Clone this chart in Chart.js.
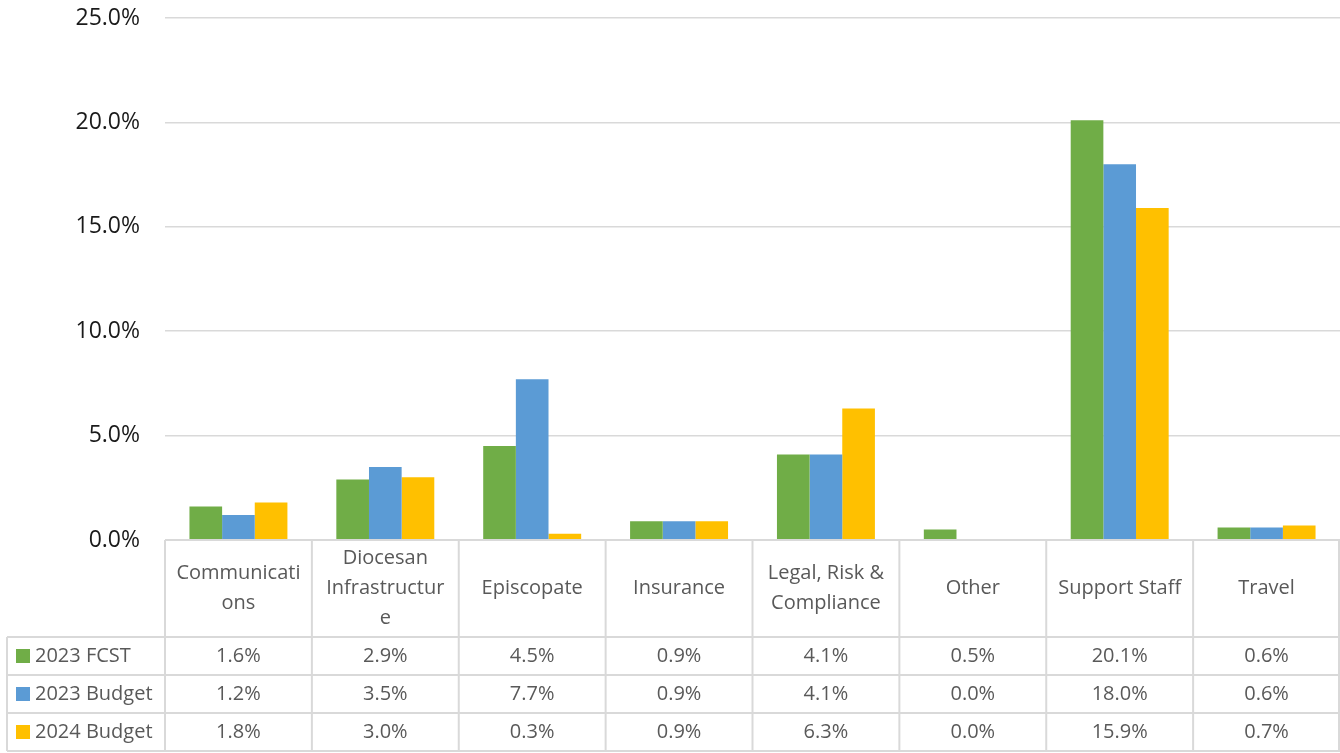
<!DOCTYPE html>
<html>
<head>
<meta charset="utf-8">
<script src="https://cdn.jsdelivr.net/npm/chart.js@4/dist/chart.umd.min.js"></script>
<style>
  html, body { margin: 0; padding: 0; background: #ffffff; }
  #wrap { position: relative; width: 1340px; height: 753px; }
</style>
</head>
<body>
<div id="wrap"><canvas id="c" width="1340" height="753"></canvas></div>
<script>
// ---- data ----
const categories = [
  ["Communicati", "ons"],
  ["Diocesan", "Infrastructur", "e"],
  ["Episcopate"],
  ["Insurance"],
  ["Legal, Risk &", "Compliance"],
  ["Other"],
  ["Support Staff"],
  ["Travel"]
];
const seriesNames = ["2023 FCST", "2023 Budget", "2024 Budget"];
const fcst2023   = [1.6, 2.9, 4.5, 0.9, 4.1, 0.5, 20.1, 0.6];
const budget2023 = [1.2, 3.5, 7.7, 0.9, 4.1, 0.0, 18.0, 0.6];
const budget2024 = [1.8, 3.0, 0.3, 0.9, 6.3, 0.0, 15.9, 0.7];
const seriesColors = ["#70AD47", "#5B9BD5", "#FFC000"];
const yTicks = [0, 5, 10, 15, 20, 25];

const FONT = "'Open Sans', 'Liberation Sans', sans-serif";
const GRID = "#d9d9d9";
const TEXT = "#595959";

const dataTable = {
  id: 'dataTable',
  afterDraw(chart) {
    const ctx = chart.ctx;
    const x = chart.scales.x;
    const area = chart.chartArea;
    const n = categories.length;
    const catW = (x.right - x.left) / n;
    const top = area.bottom;
    const headerH = 97;
    const rowH = 38;
    const legendLeft = 7;
    const rows = chart.data.datasets;
    const bottom = top + headerH + rowH * rows.length;

    ctx.save();
    ctx.strokeStyle = GRID;
    ctx.lineWidth = 2;
    for (let i = 0; i <= n; i++) {
      const px = Math.min(x.left + i * catW, x.right - 1);
      ctx.beginPath(); ctx.moveTo(px, top); ctx.lineTo(px, bottom); ctx.stroke();
    }
    ctx.beginPath(); ctx.moveTo(legendLeft, top + headerH); ctx.lineTo(legendLeft, bottom); ctx.stroke();
    ctx.beginPath(); ctx.moveTo(x.left, top); ctx.lineTo(x.right, top); ctx.stroke();
    for (let r = 0; r <= rows.length; r++) {
      const py = Math.min(top + headerH + r * rowH, 752);
      ctx.beginPath(); ctx.moveTo(legendLeft, py); ctx.lineTo(x.right, py); ctx.stroke();
    }

    ctx.fillStyle = TEXT;
    ctx.font = "20px " + FONT;
    ctx.textAlign = 'center';
    ctx.textBaseline = 'middle';
    const lh = 30;
    const hc = top + headerH / 2;
    categories.forEach((lines, i) => {
      const cx = x.getPixelForValue(i);
      const y0 = hc - (lines.length - 1) * lh / 2;
      lines.forEach((t, k) => ctx.fillText(t, cx, y0 + k * lh));
    });

    rows.forEach((ds, r) => {
      const cy = top + headerH + r * rowH + rowH / 2;
      ctx.fillStyle = ds.backgroundColor;
      ctx.fillRect(16, cy - 7, 14, 14);
      ctx.fillStyle = TEXT;
      ctx.textAlign = 'left';
      ctx.fillText(ds.label, 35, cy);
      ctx.textAlign = 'center';
      ds.data.forEach((v, i) => {
        ctx.fillText(v.toFixed(1) + '%', x.getPixelForValue(i), cy);
      });
    });
    ctx.restore();
  }
};

const seriesData = [fcst2023, budget2023, budget2024];

new Chart(document.getElementById('c'), {
  type: 'bar',
  data: {
    labels: categories.map(l => l.join(' ')),
    datasets: seriesNames.map((name, i) => ({
      label: name,
      data: seriesData[i],
      backgroundColor: seriesColors[i],
      borderWidth: 0,
      barPercentage: 1.0,
      categoryPercentage: 0.667
    }))
  },
  options: {
    responsive: false,
    animation: false,
    devicePixelRatio: 1,
    layout: { padding: { top: 18, left: 0, right: 0, bottom: 0 } },
    plugins: {
      legend: { display: false },
      tooltip: { enabled: false }
    },
    scales: {
      x: {
        grid: { display: false },
        border: { display: false },
        ticks: { display: false },
        afterFit(scale) { scale.height = 213; }
      },
      y: {
        min: 0,
        max: 25,
        afterBuildTicks(scale) { scale.ticks = yTicks.map(v => ({ value: v })); },
        grid: { color: GRID, lineWidth: 1.5, drawTicks: true, tickLength: 25, tickColor: 'rgba(0,0,0,0)' },
        border: { display: false },
        ticks: {
          padding: 0,
          color: '#1a1a1a',
          font: { family: FONT, size: 23 },
          callback: v => v.toFixed(1) + '%'
        },
        afterFit(scale) { scale.width = 165; }
      }
    }
  },
  plugins: [dataTable]
});
</script>
</body>
</html>
